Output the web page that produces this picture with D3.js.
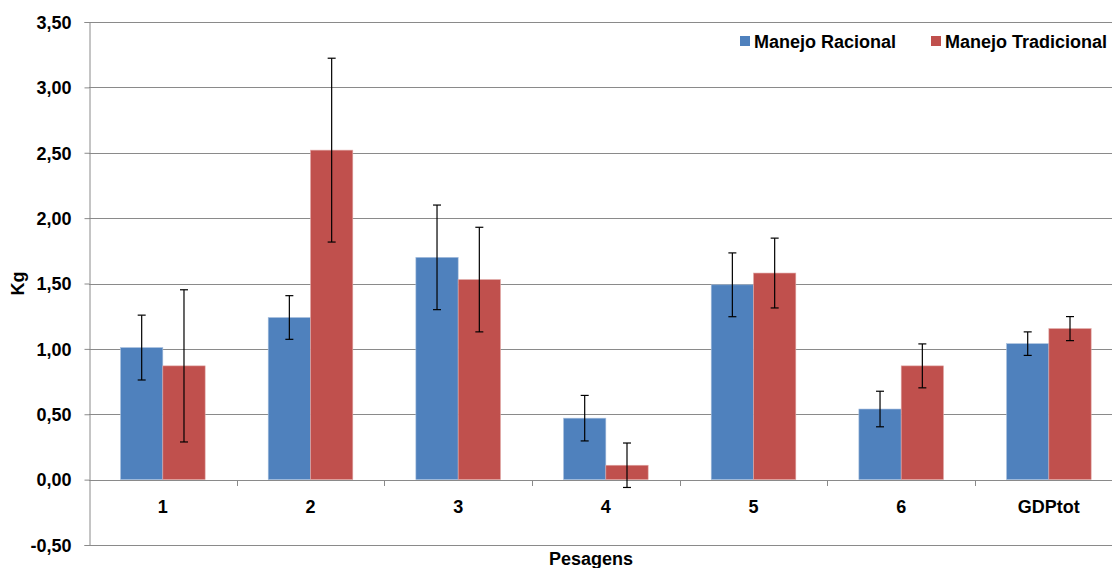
<!DOCTYPE html>
<html><head><meta charset="utf-8">
<script src="https://cdn.jsdelivr.net/npm/d3@7"></script>
<style>
html,body{margin:0;padding:0;background:#fff;overflow:hidden;}
text{font-family:"Liberation Sans",Arial,sans-serif;font-weight:bold;fill:#000;}
</style></head>
<body>
<svg id="c" width="1112" height="568"></svg>
<script>
const categories = ["1","2","3","4","5","6","GDPtot"];
const seriesNames = ["Manejo Racional","Manejo Tradicional"];
const racional = [1.01, 1.24, 1.70, 0.47, 1.49, 0.54, 1.04];
const racionalErr = [0.248, 0.167, 0.40, 0.174, 0.244, 0.136, 0.09];
const tradicional = [0.87, 2.52, 1.53, 0.11, 1.58, 0.87, 1.155];
const tradicionalErr = [0.582, 0.703, 0.40, 0.17, 0.267, 0.168, 0.092];
const yTicks = [-0.5, 0, 0.5, 1.0, 1.5, 2.0, 2.5, 3.0, 3.5];
const colors = ["#4F81BD", "#C0504D"];

(function(){
const svg = d3.select("#c");
const pLeft = 89, pRight = 89 + 7*147.67, pTop = 22, pBottom = 545;
const y = d3.scaleLinear().domain([-0.5, 3.5]).range([pBottom, pTop]);
const x = d3.scaleBand().domain(categories).range([pLeft, pRight]).padding(0);
const bw = x.bandwidth() * 0.2865;
const fmt = v => (v < 0 ? "-" : "") + Math.abs(v).toFixed(2).replace(".", ",");
const grid = "#8a8a8a";

// gridlines
svg.append("g").selectAll("line").data(yTicks).join("line")
  .attr("x1", pLeft).attr("x2", 1112)
  .attr("y1", d => Math.round(y(d)) + 0.5).attr("y2", d => Math.round(y(d)) + 0.5)
  .attr("stroke", grid).attr("stroke-width", 1);

// y axis
const yAxis = svg.append("g").attr("transform", `translate(${pLeft + 0.5},0)`)
  .call(d3.axisLeft(y).tickValues(yTicks).tickFormat(fmt).tickSize(5).tickPadding(13));
yAxis.select(".domain").attr("stroke", grid);
yAxis.selectAll(".tick line").attr("stroke", grid);
yAxis.selectAll(".tick text").style("font-size", "18px").attr("dy", "0.35em");

// x axis at zero
const xAxis = svg.append("g").attr("transform", `translate(0,${Math.round(y(0)) + 0.5})`)
  .call(d3.axisBottom(x).tickSize(0).tickPadding(20));
xAxis.select(".domain").remove();
xAxis.selectAll(".tick text").style("font-size", "18px");
// tick marks at band boundaries
svg.append("g").selectAll("line").data(categories.slice(1)).join("line")
  .attr("x1", d => Math.round(x(d)) + 0.5).attr("x2", d => Math.round(x(d)) + 0.5)
  .attr("y1", Math.round(y(0))).attr("y2", Math.round(y(0)) + 6)
  .attr("stroke", grid);

// bars
const series = [racional, tradicional];
const errs = [racionalErr, tradicionalErr];
series.forEach((vals, si) => {
  const g = svg.append("g");
  g.selectAll("rect").data(vals).join("rect")
    .attr("x", (d, i) => x(categories[i]) + x.bandwidth()/2 - bw + si*bw)
    .attr("width", bw)
    .attr("y", d => y(Math.max(0, d)))
    .attr("height", d => Math.abs(y(d) - y(0)))
    .attr("fill", colors[si])
    .attr("stroke", si === 0 ? "#a9c0de" : "#e0a8a6").attr("stroke-width", 0.6);
});
// error bars
series.forEach((vals, si) => {
  const g = svg.append("g").attr("stroke", "#000").attr("stroke-width", 1.2);
  vals.forEach((v, i) => {
    const cx = x(categories[i]) + x.bandwidth()/2 - bw/2 + si*bw;
    const hi = y(v + errs[si][i]), lo = y(v - errs[si][i]);
    g.append("line").attr("x1", cx).attr("x2", cx).attr("y1", hi).attr("y2", lo);
    g.append("line").attr("x1", cx - 4).attr("x2", cx + 4).attr("y1", hi).attr("y2", hi);
    g.append("line").attr("x1", cx - 4).attr("x2", cx + 4).attr("y1", lo).attr("y2", lo);
  });
});

// axis titles
svg.append("text").attr("transform", `translate(24,${y(1.5)}) rotate(-90)`)
  .attr("text-anchor", "middle").style("font-size", "18px").text("Kg");
svg.append("text").attr("x", 591).attr("y", 565)
  .attr("text-anchor", "middle").style("font-size", "18px").text("Pesagens");

// legend
const leg = svg.append("g");
const legX = [740, 931];
seriesNames.forEach((n, i) => {
  leg.append("rect").attr("x", legX[i]).attr("y", 36).attr("width", 10).attr("height", 10).attr("fill", colors[i]);
  leg.append("text").attr("x", legX[i] + 14).attr("y", 47.5).style("font-size", "18px").text(n);
});
})();
</script>
</body></html>
